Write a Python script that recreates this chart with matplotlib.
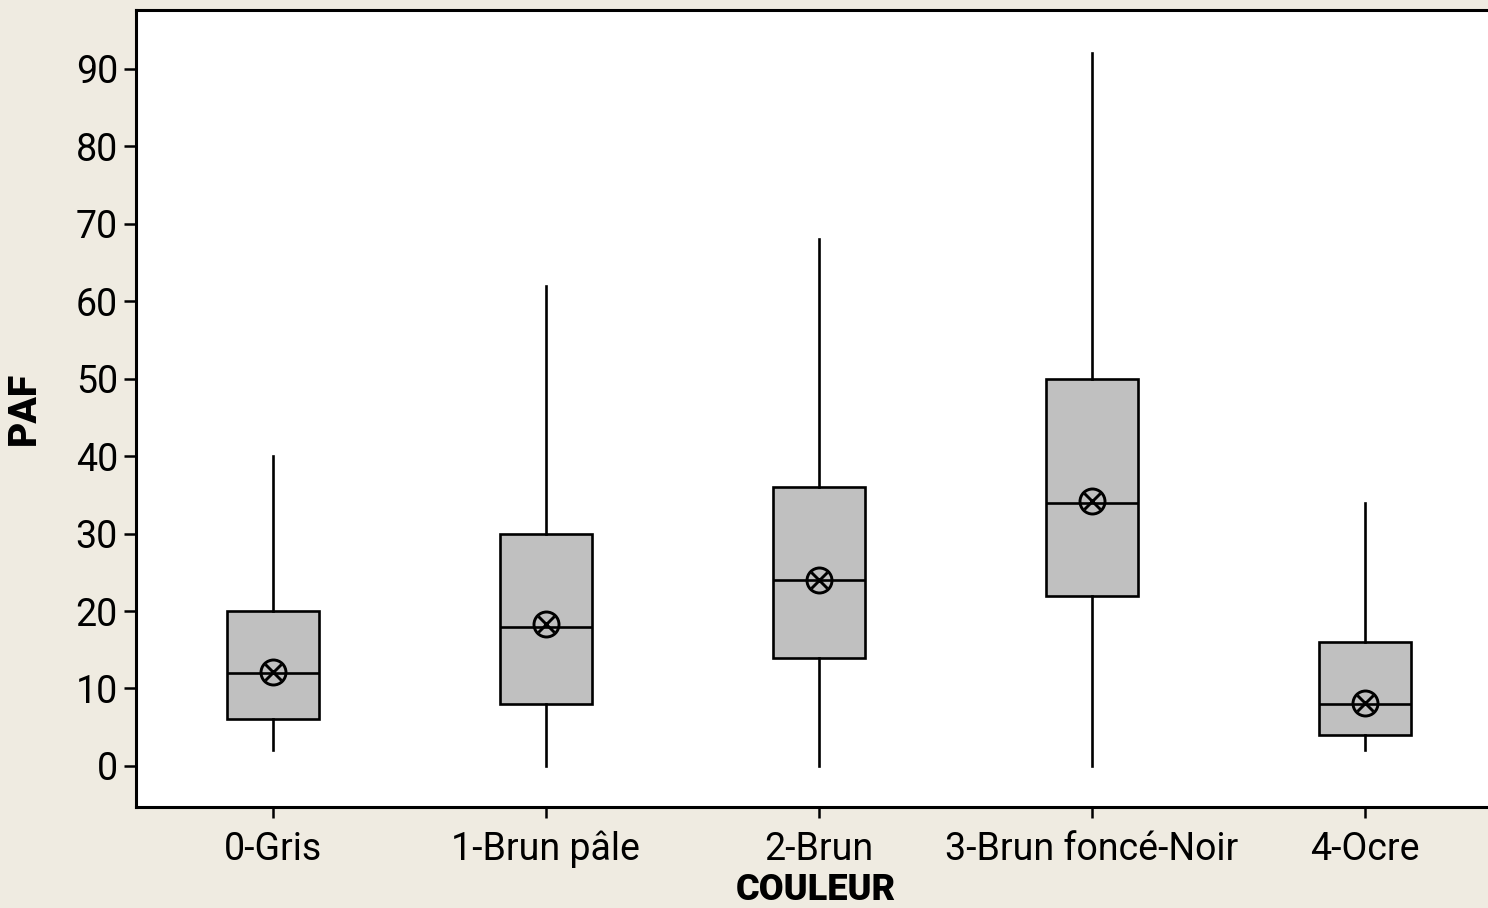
import matplotlib.pyplot as plt

categories = ["0-Gris", "1-Brun pâle", "2-Brun", "3-Brun foncé-Noir", "4-Ocre"]
whisker_low = [2, 0, 0, 0, 2]
q1 = [6, 8, 14, 22, 4]
median = [12, 18, 24, 34, 8]
q3 = [20, 30, 36, 50, 16]
whisker_high = [40, 62, 68, 92, 34]
means = [12.1, 18.3, 24.0, 34.2, 8.1]
yticks = [0, 10, 20, 30, 40, 50, 60, 70, 80, 90]

plt.rcParams['font.family'] = ['Roboto', 'DejaVu Sans']

bg = '#EFEBE1'
fig = plt.figure(figsize=(14.88, 9.08), dpi=100, facecolor=bg)
# right edge runs past the figure on purpose
ax = fig.add_axes([136 / 1488, 1 - 807 / 908, 1365.5 / 1488, 797 / 908])
ax.set_facecolor('white')

stats = []
for i, name in enumerate(categories):
    stats.append(dict(label=name, whislo=whisker_low[i], q1=q1[i], med=median[i],
                      q3=q3[i], whishi=whisker_high[i], mean=means[i], fliers=[]))

ax.bxp(stats, positions=range(len(categories)), widths=0.337, patch_artist=True,
       showcaps=False, showmeans=False,
       boxprops=dict(facecolor='#C0C0C0', edgecolor='black', linewidth=1.9),
       medianprops=dict(color='black', linewidth=1.9),
       whiskerprops=dict(color='black', linewidth=1.9))

pos = list(range(len(categories)))
ax.plot(pos, means, linestyle='none', marker='o', markersize=18,
        markerfacecolor='none', markeredgecolor='black', markeredgewidth=2.1, zorder=5)
ax.plot(pos, means, linestyle='none', marker='x', markersize=12,
        markeredgecolor='black', markeredgewidth=2.1, zorder=5)

ax.set_xlim(-0.5, 4.5)
ax.set_ylim(-5.3, 97.6)
ax.set_yticks(yticks)
ax.set_xticks(pos)
ax.set_xticklabels(categories)

for s in ['left', 'bottom', 'top', 'right']:
    ax.spines[s].set_linewidth(2.2)
ax.tick_params(axis='y', length=9, width=1.8, labelsize=27, pad=4)
ax.tick_params(axis='x', length=8, width=1.8, labelsize=27, pad=9)

ax.set_ylabel('PAF', fontsize=28, fontweight='black')
ax.yaxis.set_label_coords(-0.068, 0.5)
ax.set_xlabel('COULEUR', fontsize=26, fontweight='black')
ax.xaxis.set_label_coords(0.4975, -0.081)

fig.savefig('out.png', dpi=100, facecolor=bg)
